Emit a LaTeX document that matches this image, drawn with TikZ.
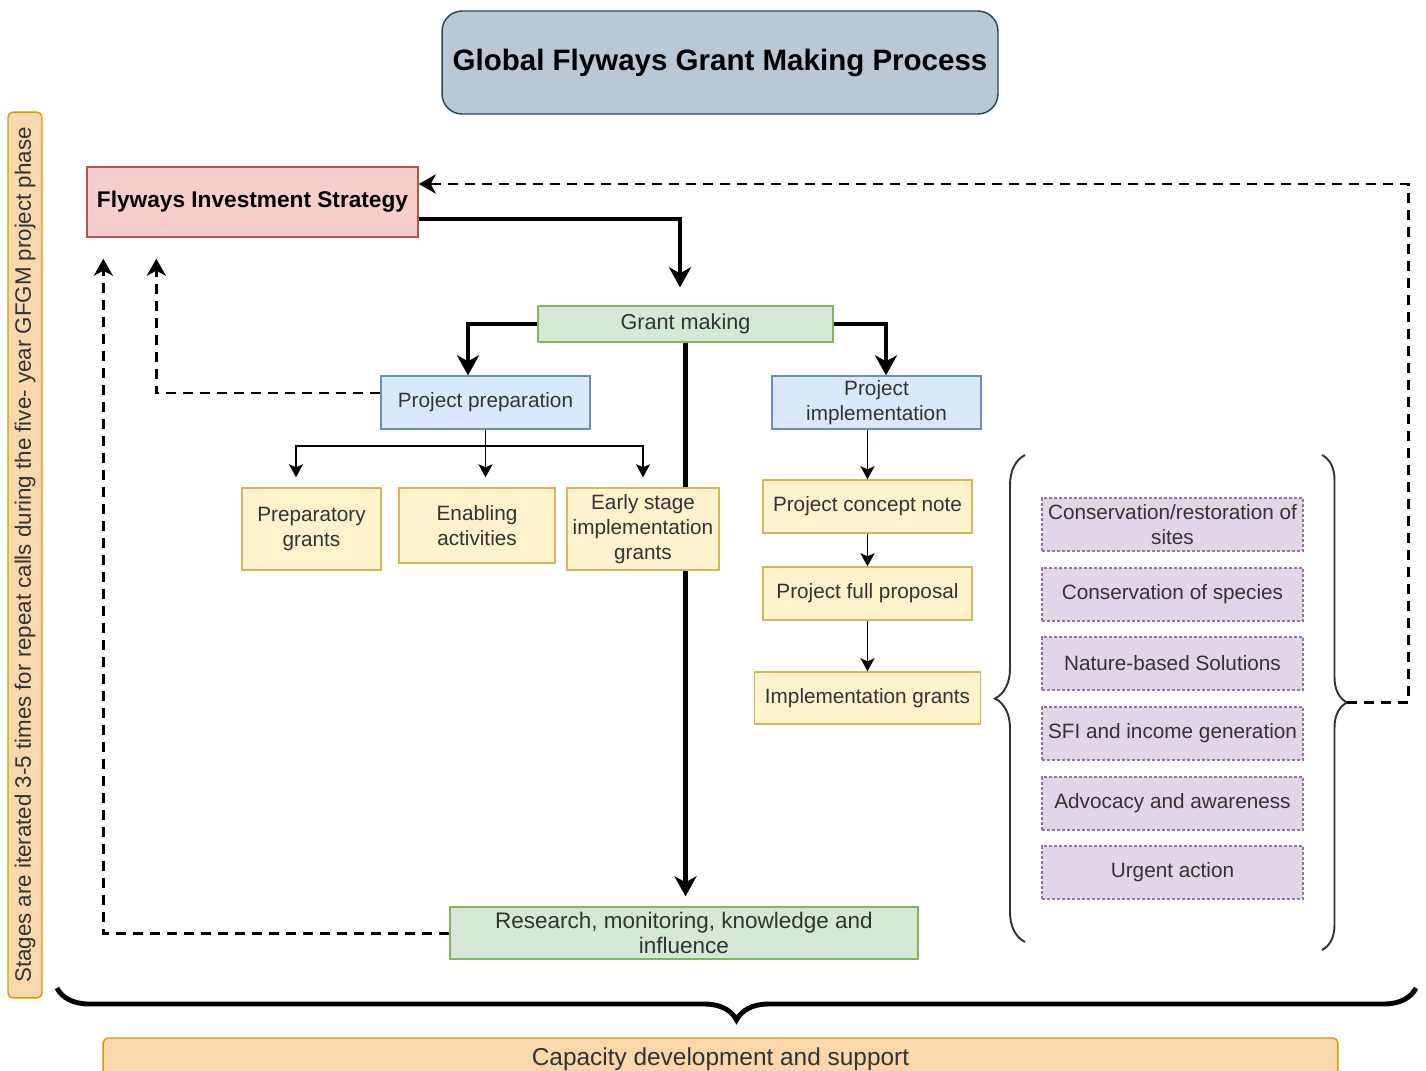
\documentclass[tikz,border=0pt]{standalone}
\usepackage{fontspec}
\setmainfont{Liberation Sans}
\usepackage{tikz}
\usetikzlibrary{arrows.meta,decorations.pathreplacing,backgrounds}

\definecolor{titlefill}{HTML}{BAC8D3}
\definecolor{titleline}{HTML}{23445D}
\definecolor{redfill}{HTML}{F8CECC}
\definecolor{redline}{HTML}{B85450}
\definecolor{greenfill}{HTML}{D5E8D4}
\definecolor{greenline}{HTML}{82B366}
\definecolor{bluefill}{HTML}{DAE8FC}
\definecolor{blueline}{HTML}{6C8EBF}
\definecolor{yellowfill}{HTML}{FFF2CC}
\definecolor{yellowline}{HTML}{D6B656}
\definecolor{purplefill}{HTML}{E1D5E7}
\definecolor{purpleline}{HTML}{9673A6}
\definecolor{orangefill}{HTML}{FAD7AC}
\definecolor{orangeline}{HTML}{D79B00}

\begin{document}
\begin{tikzpicture}[x=0.02cm,y=-0.02cm,
    box/.style={draw,line width=0.8pt,rectangle,inner sep=0pt,align=center,
      text=black!80,font=\fontsize{11.8}{14.2}\selectfont},
    greenbox/.style={box,fill=greenfill,draw=greenline},
    bluebox/.style={box,fill=bluefill,draw=blueline},
    yellowbox/.style={box,fill=yellowfill,draw=yellowline},
    purplebox/.style={box,fill=purplefill,draw=purpleline,
      dash pattern=on 0.06cm off 0.04cm,minimum width=5.22cm,minimum height=1.06cm},
    orangebox/.style={box,fill=orangefill,draw=orangeline,rounded corners=0.1cm},
    bigarrow/.style={->,line width=2.3pt,>={Stealth[length=0.4cm,width=0.44cm,inset=0.12cm]}},
    smallarrow/.style={->,line width=1.1pt,>={Stealth[length=0.26cm,width=0.28cm,inset=0.06cm]}},
    backarrow/.style={->,line width=1.7pt,dash pattern=on 0.2cm off 0.14cm,
      >={Stealth[length=0.34cm,width=0.38cm,inset=0.1cm]}},
    bracket/.style={decorate,draw=black!80,line width=1.1pt}]
  \useasboundingbox (0,0) rectangle (1426,1071);

  \node[box,fill=titlefill,draw=titleline,rounded corners=0.4cm,text=black,
    minimum width=11.12cm,minimum height=2.06cm,
    font=\fontsize{16.8}{20}\selectfont\bfseries] (title) at (720,62.5)
    {Global Flyways Grant Making Process};
  \node[orangebox,rotate=90,minimum width=17.72cm,minimum height=0.68cm,
    font=\fontsize{12.7}{15}\selectfont] (stages) at (25,555)
    {Stages are iterated 3-5 times for repeat calls during the five- year GFGM project phase};
  \node[box,fill=redfill,draw=redline,minimum width=6.62cm,minimum height=1.4cm,
    text=black,font=\fontsize{12.9}{15}\selectfont\bfseries] (fis) at (252.5,202)
    {Flyways Investment Strategy};

  \node[greenbox,minimum width=5.9cm,minimum height=0.72cm,
    font=\fontsize{12.3}{14.6}\selectfont] (gm) at (685.5,324) {Grant making};
  \node[bluebox,minimum width=4.18cm,minimum height=1.06cm] (prep) at (485.5,402.5) {Project preparation};
  \node[bluebox,minimum width=4.18cm,minimum height=1.06cm] (impl) at (876.5,402.5) {Project\\implementation};

  \node[yellowbox,minimum width=2.78cm,minimum height=1.64cm] (pgr) at (311.5,529) {Preparatory\\grants};
  \node[yellowbox,minimum width=3.12cm,minimum height=1.5cm] (enab) at (477,525.5) {Enabling\\activities};
  \node[yellowbox,minimum width=3.04cm,minimum height=1.64cm] (early) at (643,529) {Early stage\\implementation\\grants};

  \node[yellowbox,minimum width=4.18cm,minimum height=1.06cm] (concept) at (867.5,506.5) {Project concept note};
  \node[yellowbox,minimum width=4.18cm,minimum height=1.06cm] (full) at (867.5,593.5) {Project full proposal};
  \node[yellowbox,minimum width=4.52cm,minimum height=1.04cm] (igr) at (867.5,698) {Implementation grants};

  \node[purplebox] (sites) at (1172.5,524.5) {Conservation/restoration of\\sites};
  \node[purplebox] (species) at (1172.5,594.5) {Conservation of species};
  \node[purplebox] (nbs) at (1172.5,663.5) {Nature-based Solutions};
  \node[purplebox] (sfi) at (1172.5,733.5) {SFI and income generation};
  \node[purplebox] (advocacy) at (1172.5,803.5) {Advocacy and awareness};
  \node[purplebox] (urgent) at (1172.5,872.5) {Urgent action};

  \node[greenbox,minimum width=9.36cm,minimum height=1.04cm,
    font=\fontsize{12.8}{14.6}\selectfont] (research) at (684,933)
    {Research, monitoring, knowledge and\\influence};
  \node[orangebox,minimum width=24.7cm,minimum height=0.84cm,
    font=\fontsize{13.9}{16}\selectfont] (capacity) at (720.5,1059)
    {Capacity development and support};

  \draw[bracket,decoration={brace,amplitude=0.6cm}] (1025,942) -- (1025,455);
  \draw[bracket,decoration={brace,amplitude=0.5cm}] (1322,455) -- (1322,950);
  \coordinate (rbtip) at (1347,702.5);
  \draw[bracket,draw=black,line width=2.8pt,decoration={brace,mirror,amplitude=0.64cm}]
    (57,988) -- (1416,988);

  \draw[bigarrow] ([yshift=-0.34cm]fis.east) -| ([xshift=-0.11cm,yshift=0.36cm]gm.north);
  \draw[bigarrow] (gm.west) -| ([xshift=-0.35cm]prep.north);
  \draw[bigarrow] (gm.east) -| ([xshift=0.19cm]impl.north);
  \begin{scope}[on background layer]
    \draw[bigarrow,shorten >=0.2cm] (gm.south) -- (gm.south |- research.north);
  \end{scope}

  \coordinate (split) at ([yshift=-0.32cm]prep.south);
  \draw[smallarrow] (prep.south) -- ([yshift=0.2cm]prep.south |- enab.north);
  \draw[smallarrow] (split) -| ([xshift=-0.31cm,yshift=0.2cm]pgr.north);
  \draw[smallarrow] (split) -| ([yshift=0.2cm]early.north);
  \draw[smallarrow] (impl.south -| concept.north) -- (concept.north);
  \draw[smallarrow] (concept) -- (full);
  \draw[smallarrow] (full) -- (igr);

  \draw[backarrow] (rbtip) -- ++(1.22cm,0) |- ([yshift=0.36cm]fis.east);
  \draw[backarrow] ([yshift=0.19cm]prep.west) -| ([xshift=1.4cm,yshift=-0.42cm]fis.south west);
  \draw[backarrow] (research.west) -| ([xshift=0.34cm,yshift=-0.42cm]fis.south west);
\end{tikzpicture}
\end{document}
